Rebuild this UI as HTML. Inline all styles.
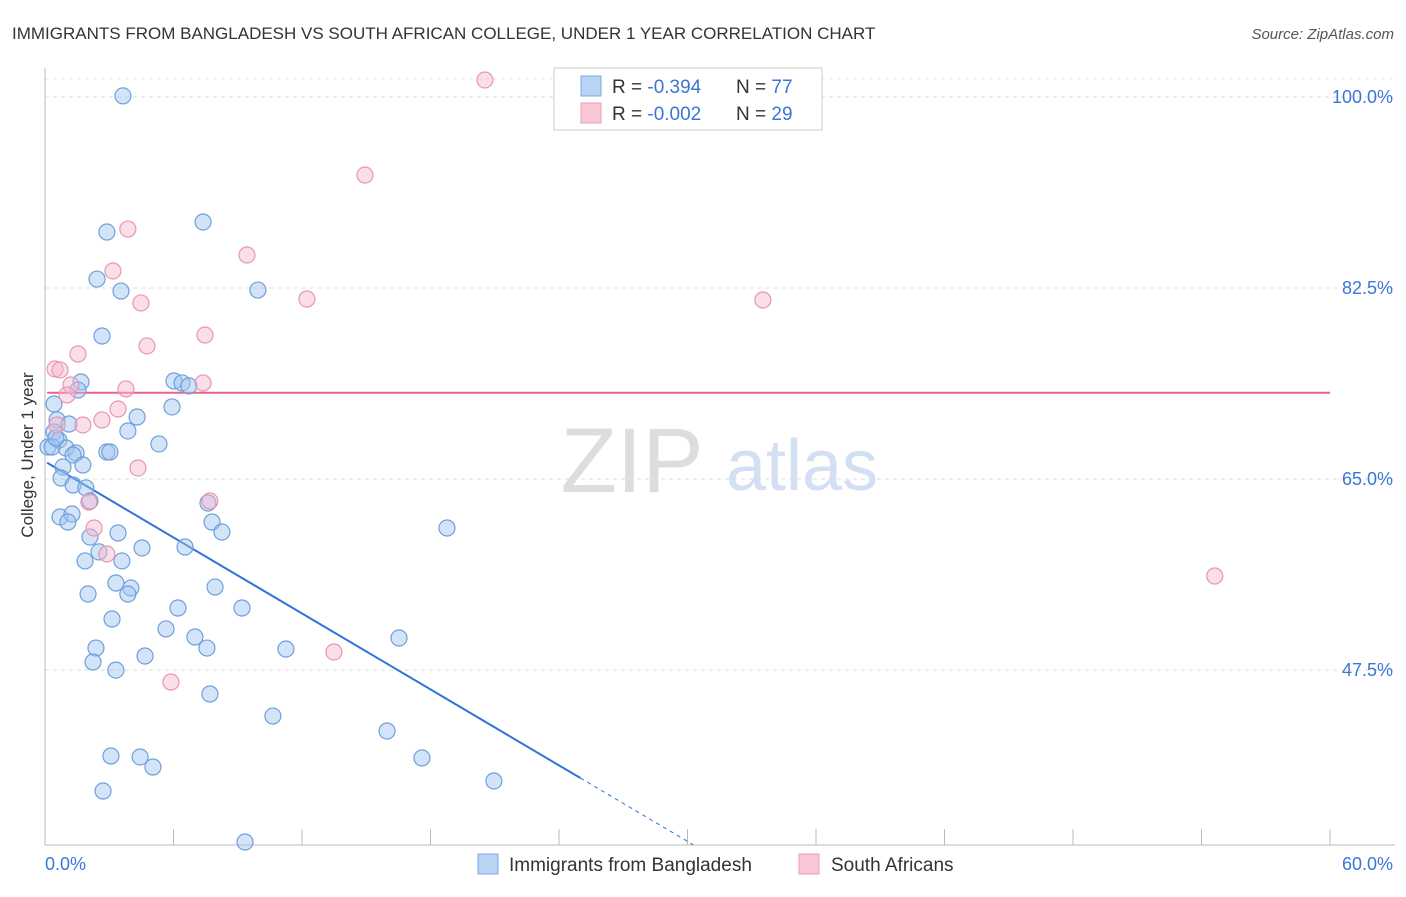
<!DOCTYPE html>
<html><head><meta charset="utf-8"><style>
body{margin:0;background:#fff;font-family:"Liberation Sans",sans-serif;}
svg text{font-family:"Liberation Sans",sans-serif;}
</style></head><body>
<svg id="chart" width="1406" height="892" xmlns="http://www.w3.org/2000/svg">
<text x="12" y="39" font-size="17" fill="#333">IMMIGRANTS FROM BANGLADESH VS SOUTH AFRICAN COLLEGE, UNDER 1 YEAR CORRELATION CHART</text>
<text x="1394" y="39" font-size="15" fill="#555" font-style="italic" text-anchor="end">Source: ZipAtlas.com</text>
<g>
<text x="632" y="492" font-size="92" fill="#ddd" font-family="Liberation Serif" text-anchor="middle">ZIP</text>
<text x="802" y="490" font-size="72" fill="#d3e0f3" text-anchor="middle">atlas</text>
</g>
<g id="grid"></g><g id="axes"></g><g id="lines"></g><g id="points"></g>
<text x="33" y="455" font-size="17" fill="#333" text-anchor="middle" transform="rotate(-90 33 455)">College, Under 1 year</text>
<g>
<rect x="554" y="68" width="268" height="62" fill="#fff" stroke="#ccc"/>
<rect x="581" y="76" width="20" height="20" fill="#b9d3f5" stroke="#7fa9e0"/>
<rect x="581" y="103" width="20" height="20" fill="#f9c6d5" stroke="#ee9ab3"/>
<text x="612" y="93" font-size="19" fill="#333">R = <tspan fill="#3a76d6">-0.394</tspan></text>
<text x="736" y="93" font-size="19" fill="#333">N = <tspan fill="#3a76d6">77</tspan></text>
<text x="612" y="120" font-size="19" fill="#333">R = <tspan fill="#3a76d6">-0.002</tspan></text>
<text x="736" y="120" font-size="19" fill="#333">N = <tspan fill="#3a76d6">29</tspan></text>
</g>
<g>
<rect x="478" y="854" width="20" height="20" fill="#b9d3f5" stroke="#7fa9e0"/>
<text x="509" y="871" font-size="19" fill="#333">Immigrants from Bangladesh</text>
<rect x="799" y="854" width="20" height="20" fill="#f9c6d5" stroke="#ee9ab3"/>
<text x="831" y="871" font-size="19" fill="#333">South Africans</text>
</g>
</svg>
<script>
const yTicks=[100,82.5,65,47.5];
const yTickLabels=["100.0%","82.5%","65.0%","47.5%"];
const xTicks=[0,6,12,18,24,30,36,42,48,54,60];
const xEndLabels=["0.0%","60.0%"];
const blueX=[3.64,7.38,2.89,2.43,3.55,9.94,2.66,1.68,1.54,6.02,6.40,6.72,0.42,5.93,4.30,0.56,1.12,0.42,3.87,0.65,5.32,0.14,0.98,1.45,2.89,3.03,1.31,1.77,0.84,0.75,1.31,1.91,2.10,7.61,0.70,1.26,1.07,7.80,8.26,3.41,2.10,18.77,6.54,4.53,2.52,1.87,3.59,3.31,4.01,7.94,3.87,2.01,6.21,9.20,3.13,5.65,7.00,16.53,2.38,7.56,11.25,4.67,2.24,3.31,7.70,10.64,15.97,3.08,4.44,5.04,17.60,20.96,2.71,9.34,0.33,0.51];
const blueY=[100.1,88.55,87.63,83.32,82.22,82.31,78.10,73.89,73.15,73.98,73.80,73.53,71.87,71.60,70.68,70.41,70.04,69.31,69.40,68.57,68.21,67.93,67.84,67.38,67.47,67.47,67.20,66.28,66.10,65.09,64.45,64.18,62.98,62.80,61.52,61.79,61.06,61.06,60.14,60.05,59.68,60.51,58.77,58.68,58.32,57.49,57.49,55.47,55.01,55.10,54.46,54.46,53.18,53.18,52.17,51.26,50.52,50.43,49.51,49.51,49.42,48.78,48.23,47.49,45.30,43.28,41.91,39.62,39.53,38.61,39.44,37.33,36.41,31.74,67.93,68.76];
const pinkX=[20.54,14.94,3.87,9.43,3.17,4.48,12.23,33.52,7.47,4.76,1.54,0.47,0.70,1.21,3.78,7.38,1.03,3.41,2.66,1.77,0.56,7.70,2.05,2.29,2.89,4.34,13.49,5.88,54.62];
const pinkY=[101.56,92.85,87.90,85.52,84.06,81.13,81.49,81.40,78.19,77.19,76.45,75.08,74.99,73.61,73.25,73.80,72.70,71.41,70.41,69.95,69.95,62.98,62.89,60.51,58.13,66.01,49.15,46.40,56.11];
const blueTrend=[66.6,-1.16];
const blueSolidEnd=25;
const pinkTrend=[72.9,0];
const NS="http://www.w3.org/2000/svg";
const X0=45,X1=1330,XMAX=60,Y100=97,PX_PER=10.914;
const sx=v=>X0+(v/XMAX)*(X1-X0);
const sy=v=>Y100+(100-v)*PX_PER;
function mk(tag,attrs,parent){const e=document.createElementNS(NS,tag);for(const k in attrs)e.setAttribute(k,attrs[k]);parent.appendChild(e);return e;}
const grid=document.getElementById('grid'),axes=document.getElementById('axes'),lines=document.getElementById('lines'),pts=document.getElementById('points');
yTicks.forEach((t,i)=>{
 const l=mk('line',{x1:45,x2:1395,y1:sy(t),y2:sy(t),stroke:'#ddd','stroke-dasharray':'4,4'},grid);
 
 
 const tx=mk('text',{x:1393,y:sy(t)+6,'font-size':18,fill:'#3a76d6','text-anchor':'end'},axes);
 tx.textContent=yTickLabels[i];
 
 
});
const topLine=mk('line',{x1:45,x2:1395,y1:79,y2:79,stroke:'#e6e6e6','stroke-dasharray':'4,4'},grid);


const ya=mk('line',{x1:45,x2:45,y1:68,y2:845,stroke:'#bbb'},axes);


const xa=mk('line',{x1:45,x2:1395,y1:845,y2:845,stroke:'#bbb'},axes);


xTicks.forEach(t=>{
 const l=mk('line',{x1:sx(t),x2:sx(t),y1:829,y2:845,stroke:'#bbb'},axes);
 
 
});
const xl0=mk('text',{x:45,y:870,'font-size':18,fill:'#3a76d6'},axes);
xl0.textContent=xEndLabels[0];


const xl1=mk('text',{x:1393,y:870,'font-size':18,fill:'#3a76d6','text-anchor':'end'},axes);
xl1.textContent=xEndLabels[1];


const yAt=(tr,x)=>tr[0]+tr[1]*x;
const bl=mk('line',{x1:sx(0.1),y1:sy(yAt(blueTrend,0.1)),x2:sx(blueSolidEnd),y2:sy(yAt(blueTrend,blueSolidEnd)),stroke:'#2f73d8','stroke-width':2},lines);


const yEnd=31.5;const xEnd=(yEnd-blueTrend[0])/blueTrend[1];
const bd=mk('line',{x1:sx(blueSolidEnd),y1:sy(yAt(blueTrend,blueSolidEnd)),x2:sx(xEnd),y2:sy(yEnd),stroke:'#2f73d8','stroke-width':1,'stroke-dasharray':'4,4'},lines);


const pl=mk('line',{x1:sx(0.1),y1:sy(yAt(pinkTrend,0.1)),x2:sx(60),y2:sy(yAt(pinkTrend,60)),stroke:'#e8648a','stroke-width':2},lines);


blueX.forEach((x,i)=>{
 const c=mk('circle',{cx:sx(x),cy:sy(blueY[i]),r:8,fill:'rgba(160,196,240,0.45)',stroke:'#6f9fdc','stroke-width':1.2},pts);
 
 
});
pinkX.forEach((x,i)=>{
 const c=mk('circle',{cx:sx(x),cy:sy(pinkY[i]),r:8,fill:'rgba(246,184,203,0.45)',stroke:'#e995b0','stroke-width':1.2},pts);
 
 
});
</script>
</body></html>
